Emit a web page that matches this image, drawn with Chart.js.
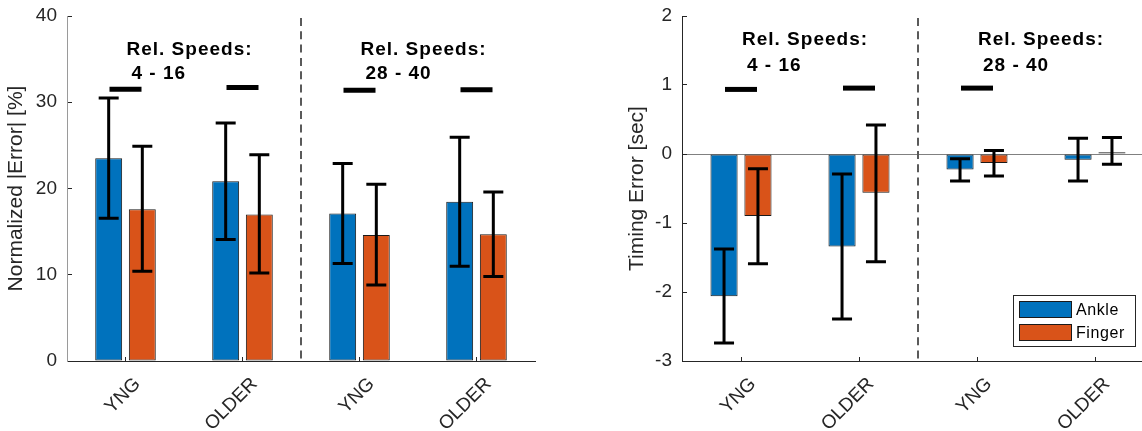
<!DOCTYPE html>
<html><head><meta charset="utf-8">
<script src="https://cdn.jsdelivr.net/npm/chart.js@4"></script>
<style>
html,body{margin:0;padding:0;background:#fff;width:1142px;height:431px;overflow:hidden;position:relative}
#c1{position:absolute;left:0;top:0}
#c2{position:absolute;left:600px;top:0}
</style></head><body>
<canvas id="c1" width="571" height="431"></canvas>
<canvas id="c2" width="600" height="431"></canvas>
<script>
// ---------- data ----------
const categories = ['YNG', 'OLDER', 'YNG', 'OLDER'];
const seriesNames = ['Ankle', 'Finger'];

// left panel: Normalized |Error| [%]
const errAnkle      = [23.5, 20.85, 17.1, 18.45];
const errFinger     = [17.6, 17.0, 14.6, 14.7];
const errAnkleLow   = [16.55, 14.1, 11.3, 11.0];
const errAnkleHigh  = [30.5, 27.6, 22.9, 25.95];
const errFingerLow  = [10.4, 10.2, 8.8, 9.8];
const errFingerHigh = [24.9, 23.9, 20.5, 19.6];
const errSig        = [31.5, 31.7, 31.4, 31.45];
const errTicks      = [0, 10, 20, 30, 40];

// right panel: Timing Error [sec]
const timAnkle      = [-2.06, -1.34, -0.225, -0.085];
const timFinger     = [-0.90, -0.56, -0.13, 0.027];
const timAnkleLow   = [-2.74, -2.39, -0.39, -0.39];
const timAnkleHigh  = [-1.376, -0.29, -0.07, 0.23];
const timFingerLow  = [-1.59, -1.56, -0.32, -0.15];
const timFingerHigh = [-0.215, 0.42, 0.05, 0.24];
const timSig        = [0.936, 0.955, 0.955, null];
const timTicks      = [-3, -2, -1, 0, 1, 2];

const groupTitle  = 'Rel. Speeds:';
const groupRanges = ['4 - 16', '28 - 40'];

// ---------- styling ----------
const FONT = "'Liberation Sans', Arial, sans-serif";
const BLUE = '#0072BD', ORANGE = '#D95319', AXIS = '#262626';
Chart.defaults.font.family = FONT;
Chart.defaults.color = AXIS;

const extras = {
  id: 'extras',
  afterDatasetsDraw(chart, args, opts) {
    const ctx = chart.ctx, xs = chart.scales.x, ys = chart.scales.y, ca = chart.chartArea;
    ctx.save();
    // error bars
    [0, 1].forEach(di => {
      const ds = chart.data.datasets[di];
      const meta = chart.getDatasetMeta(di);
      meta.data.forEach((bar, i) => {
        const x = bar.x;
        const yl = ys.getPixelForValue(ds.errLow[i]);
        const yh = ys.getPixelForValue(ds.errHigh[i]);
        ctx.strokeStyle = '#000';
        ctx.lineWidth = 3;
        ctx.lineCap = 'butt';
        ctx.beginPath();
        ctx.moveTo(x, yl); ctx.lineTo(x, yh);
        ctx.moveTo(x - 10, yl); ctx.lineTo(x + 10, yl);
        ctx.moveTo(x - 10, yh); ctx.lineTo(x + 10, yh);
        ctx.stroke();
      });
    });
    // dashed separator
    const sx = (xs.getPixelForValue(1) + xs.getPixelForValue(2)) / 2;
    ctx.strokeStyle = '#5a5a5a';
    ctx.lineWidth = 2;
    ctx.setLineDash([8, 5.3]);
    ctx.beginPath();
    ctx.moveTo(Math.round(sx), ca.top + 2);
    ctx.lineTo(Math.round(sx), ca.bottom);
    ctx.stroke();
    ctx.setLineDash([]);
    // group annotations
    ctx.fillStyle = '#000';
    ctx.font = 'bold 19px ' + FONT;
    try { ctx.letterSpacing = '1px'; } catch (e) {}
    ctx.textBaseline = 'alphabetic';
    ctx.textAlign = 'left';
    [0, 2].forEach((ci, g) => {
      const cx = xs.getPixelForValue(ci);
      ctx.fillText(groupTitle, cx + 1, ys.getPixelForValue(opts.titleY));
      ctx.fillText(groupRanges[g], cx + 6, ys.getPixelForValue(opts.rangeY));
    });
    try { ctx.letterSpacing = '0px'; } catch (e) {}
    // legend
    if (opts.legend) {
      const bw = 123, bh = 52;
      const bx = ca.right - 18 - bw, by = ca.bottom - 14 - bh;
      ctx.fillStyle = '#fff';
      ctx.fillRect(bx, by, bw, bh);
      ctx.strokeStyle = '#262626';
      ctx.lineWidth = 1;
      ctx.strokeRect(bx + 0.5, by + 0.5, bw - 1, bh - 1);
      ctx.font = '16px ' + FONT;
      try { ctx.letterSpacing = '0.6px'; } catch (e) {}
      [0, 1].forEach(di => {
        const ds = chart.data.datasets[di];
        const sy = by + 6 + di * 23;
        ctx.fillStyle = ds.backgroundColor;
        ctx.fillRect(bx + 6, sy, 53, 17);
        ctx.strokeStyle = '#1a1a1a';
        ctx.strokeRect(bx + 6.5, sy + 0.5, 52, 16);
        ctx.fillStyle = '#000';
        ctx.fillText(ds.label, bx + 63, sy + 14);
      });
      try { ctx.letterSpacing = '0px'; } catch (e) {}
    }
    ctx.restore();
  }
};

function makeChart(id, cfg) {
  const barCommon = {
    borderColor: '#1a1a1a', borderWidth: 1, borderSkipped: false,
    categoryPercentage: 0.575, barPercentage: 0.8
  };
  return new Chart(document.getElementById(id), {
    type: 'bar',
    data: {
      labels: categories,
      datasets: [
        Object.assign({ label: seriesNames[0], data: cfg.a, backgroundColor: BLUE, errLow: cfg.aLow, errHigh: cfg.aHigh, order: 2 }, barCommon),
        Object.assign({ label: seriesNames[1], data: cfg.f, backgroundColor: ORANGE, errLow: cfg.fLow, errHigh: cfg.fHigh, order: 2 }, barCommon),
        { type: 'line', label: 'sig', data: cfg.sig, showLine: false, pointStyle: 'line',
          pointRadius: 16, pointHoverRadius: 16, borderColor: '#000', pointBorderColor: '#000',
          borderWidth: 5, pointBorderWidth: 5, order: 1 }
      ]
    },
    options: {
      responsive: false, animation: false, devicePixelRatio: 1,
      events: [],
      layout: { autoPadding: false, padding: { left: 0, top: 16, right: cfg.padRight, bottom: 0 } },
      plugins: {
        legend: { display: false }, tooltip: { enabled: false },
        extras: { titleY: cfg.titleY, rangeY: cfg.rangeY, legend: cfg.legend }
      },
      scales: {
        x: {
          type: 'category', offset: true,
          grid: { offset: false, drawOnChartArea: false, tickLength: -4, tickColor: AXIS, color: AXIS },
          border: { color: AXIS, width: 1 },
          ticks: { minRotation: 45, maxRotation: 45, autoSkip: false, padding: 16, labelOffset: 12,
                   font: { size: 19 }, color: AXIS },
          afterFit: s => { s.height = 70; }
        },
        y: {
          min: cfg.ticks[0], max: cfg.ticks[cfg.ticks.length - 1],
          afterBuildTicks: s => { s.ticks = cfg.ticks.map(v => ({ value: v })); },
          grid: { drawOnChartArea: cfg.zeroLine, tickLength: -5, tickColor: AXIS,
                  color: c => (cfg.zeroLine && c.tick && c.tick.value === 0) ? '#808080' : 'rgba(0,0,0,0)' },
          border: { color: cfg.yAxisColor, width: 1 },
          ticks: { padding: 15, font: { size: 19 }, color: AXIS },
          title: { display: true, text: cfg.title, font: { size: 21 }, color: AXIS,
                   padding: { top: cfg.titlePad, bottom: 0 } },
          afterFit: s => { s.width = cfg.yWidth; s.paddingTop = 0; s.paddingBottom = 0; }
        }
      }
    },
    plugins: [extras]
  });
}

makeChart('c1', {
  a: errAnkle, f: errFinger, aLow: errAnkleLow, aHigh: errAnkleHigh,
  fLow: errFingerLow, fHigh: errFingerHigh, sig: errSig, ticks: errTicks,
  title: 'Normalized |Error| [%]', titlePad: 4, yWidth: 67, padRight: 36,
  yAxisColor: '#9a9a9a', zeroLine: false, titleY: 35.48, rangeY: 32.66, legend: false
});
makeChart('c2', {
  a: timAnkle, f: timFinger, aLow: timAnkleLow, aHigh: timAnkleHigh,
  fLow: timFingerLow, fHigh: timFingerHigh, sig: timSig, ticks: timTicks,
  title: 'Timing Error [sec]', titlePad: 25, yWidth: 82, padRight: 46,
  yAxisColor: AXIS, zeroLine: true, titleY: 1.585, rangeY: 1.20, legend: true
});
</script>
</body></html>
